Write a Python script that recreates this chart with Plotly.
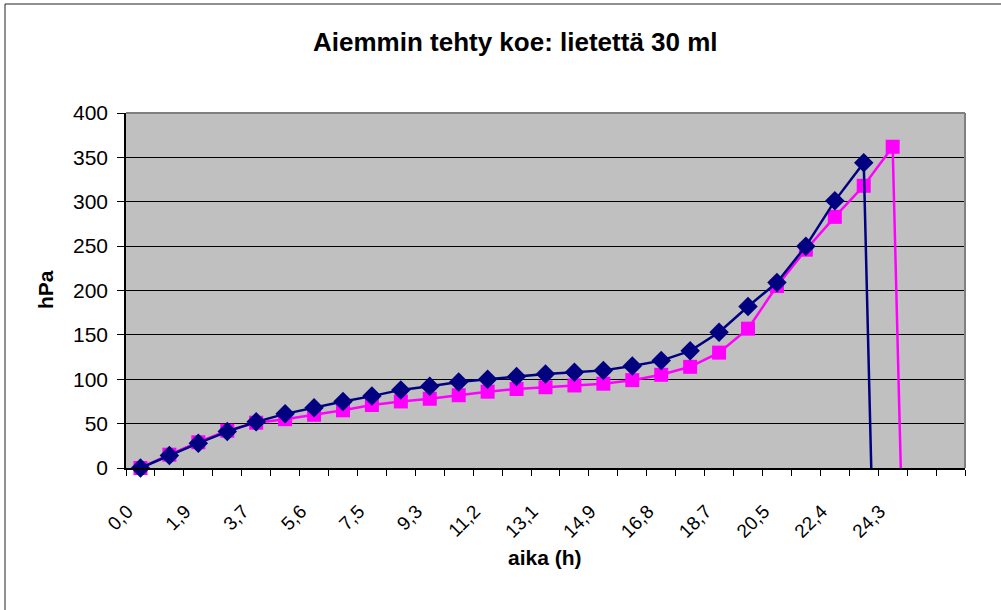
import plotly.graph_objects as go

# Category labels (aika, h) – one per category slot on the axis
categories = ["0,0", "0,9", "1,9", "2,8", "3,7", "4,7", "5,6", "6,5", "7,5", "8,4",
              "9,3", "10,3", "11,2", "12,1", "13,1", "14,0", "14,9", "15,9", "16,8",
              "17,7", "18,7", "19,6", "20,5", "21,5", "22,4", "23,3", "24,3", "25,2", "26,1"]

# Series values (hPa)
series_navy = [0, 14, 28, 41, 52, 61, 68, 75, 81, 88, 92, 97, 100, 103, 106, 108, 110,
               115, 121, 132, 153, 182, 209, 250, 301, 344, -980]
series_magenta = [0, 15, 29, 42, 51, 55, 60, 65, 71, 75, 78, 82, 86, 89, 91, 93, 95,
                  99, 105, 114, 130, 157, 205, 246, 283, 318, 362, -930]

y_ticks = [0, 50, 100, 150, 200, 250, 300, 350, 400]

FONT = "Liberation Sans, Arial, sans-serif"

fig = go.Figure()
fig.add_trace(go.Scatter(
    x=list(range(len(series_magenta))), y=series_magenta, mode="lines+markers",
    line=dict(color="#FF00FF", width=2.5),
    marker=dict(symbol="square", size=14, color="#FF00FF"),
    cliponaxis=False, showlegend=False))
fig.add_trace(go.Scatter(
    x=list(range(len(series_navy))), y=series_navy, mode="lines+markers",
    line=dict(color="#000080", width=2.5),
    marker=dict(symbol="diamond", size=15, color="#000080"),
    cliponaxis=False, showlegend=False))

n = len(categories)
even_idx = list(range(0, n - 1, 2))
fig.update_xaxes(
    range=[-0.5, n - 0.5], tickmode="array", tickvals=even_idx,
    ticktext=[categories[i] for i in even_idx], tickangle=-45,
    ticks="", showgrid=False, zeroline=False,
    showline=True, linecolor="black", linewidth=1.5,
    tickfont=dict(family=FONT, size=19, color="black"),
    ticklabelstandoff=23, ticklabelshift=-13,
    minor=dict(tickmode="array", tickvals=[i - 0.5 for i in range(n + 1)],
               ticks="outside", ticklen=6, tickcolor="black", tickwidth=1, showgrid=False))
fig.update_yaxes(
    range=[0, 400], tickmode="array", tickvals=y_ticks,
    ticks="outside", ticklen=7, tickcolor="black",
    showgrid=True, gridcolor="black", gridwidth=1, zeroline=False,
    showline=True, linecolor="black", linewidth=1.5,
    tickfont=dict(family=FONT, size=21, color="black"),
    ticklabelstandoff=5)

fig.update_layout(
    width=1001, height=610,
    margin=dict(l=126, r=36, t=113, b=142),
    plot_bgcolor="#C0C0C0", paper_bgcolor="white",
    shapes=[
        dict(type="line", xref="paper", yref="paper", x0=0, x1=1, y0=1, y1=1,
             line=dict(color="#808080", width=2)),
        dict(type="line", xref="paper", yref="paper", x0=1, x1=1, y0=0, y1=1,
             line=dict(color="#808080", width=2)),
        dict(type="rect", xref="paper", yref="paper",
             x0=(5 - 126) / 839, x1=(1010 - 126) / 839,
             y0=(468 - 620) / 355, y1=(468 - 4) / 355,
             line=dict(color="#222222", width=1), layer="below"),
    ],
    annotations=[
        dict(text="<b>Aiemmin tehty koe: lietettä 30 ml</b>", xref="paper", yref="paper",
             x=(515 - 126) / 839, y=(468 - 42) / 355, showarrow=False,
             xanchor="center", yanchor="middle",
             font=dict(family=FONT, size=26, color="black")),
        dict(text="<b>aika (h)</b>", xref="paper", yref="paper",
             x=(545 - 126) / 839, y=(468 - 557) / 355, showarrow=False,
             xanchor="center", yanchor="middle",
             font=dict(family=FONT, size=21, color="black")),
        dict(text="<b>hPa</b>", xref="paper", yref="paper",
             x=(45 - 126) / 839, y=(468 - 290) / 355, showarrow=False, textangle=-90,
             xanchor="center", yanchor="middle",
             font=dict(family=FONT, size=21, color="black")),
    ],
)

fig.write_html("out.html")
